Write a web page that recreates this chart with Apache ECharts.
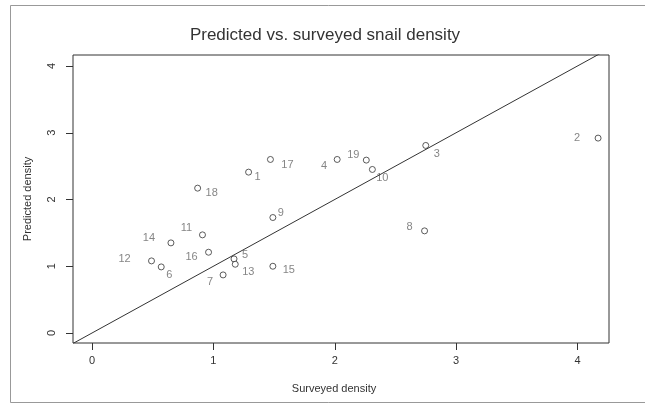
<!DOCTYPE html>
<html>
<head>
<meta charset="utf-8">
<script src="https://cdn.jsdelivr.net/npm/echarts@6/dist/echarts.min.js"></script>
<style>
  html, body { margin: 0; padding: 0; background: #fff; }
  #snailChart { width: 645px; height: 407px; }
</style>
</head>
<body>
<div id="snailChart"></div>
<script>
// site ids and densities
var siteIds = ["1", "2", "3", "4", "5", "6", "7", "8", "9", "10",
               "11", "12", "13", "14", "15", "16", "17", "18", "19"];
var surveyed = [1.29, 4.17, 2.75, 2.02, 1.17, 0.57, 1.08, 2.74, 1.49, 2.31,
                0.91, 0.49, 1.18, 0.65, 1.49, 0.96, 1.47, 0.87, 2.26];
var predicted = [2.41, 2.92, 2.81, 2.60, 1.11, 0.99, 0.87, 1.53, 1.73, 2.45,
                 1.47, 1.08, 1.03, 1.35, 1.00, 1.21, 2.60, 2.17, 2.59];
var tickValues = [0, 1, 2, 3, 4];

// where each id label sits next to its point (px)
var labelShift = {
  "1": [9, 5], "2": [-21, 0], "3": [11, 9], "4": [-13, 7], "5": [11, -4],
  "6": [8, 8], "7": [-13, 7], "8": [-15, -4], "9": [8, -5], "10": [10, 9],
  "11": [-16, -7], "12": [-27, -2], "13": [13, 8], "14": [-22, -5], "15": [16, 4],
  "16": [-17, 5], "17": [17, 6], "18": [14, 5], "19": [-13, -5]
};

var xMin = -0.157, xMax = 4.26;
var yMin = -0.15, yMax = 4.165;

var chart = echarts.init(document.getElementById("snailChart"), null, { renderer: "canvas" });

var points = [];
for (var i = 0; i < siteIds.length; i++) {
  points.push({
    value: [surveyed[i], predicted[i], siteIds[i]],
    label: { offset: labelShift[siteIds[i]] || [10, 0] }
  });
}

var fontFam = "'Liberation Sans', Arial, sans-serif";

var option = {
  backgroundColor: "#fff",
  animation: false,
  title: {
    text: "Predicted vs. surveyed snail density",
    left: 320,
    textAlign: "center",
    top: 22,
    textStyle: { fontFamily: fontFam, fontSize: 17, fontWeight: "normal", color: "#333" }
  },
  graphic: [
    {
      type: "rect",
      shape: { x: 10.5, y: 5.5, width: 640, height: 397 },
      style: { fill: null, stroke: "#999", lineWidth: 1 },
      silent: true
    }
  ],
  grid: {
    left: 73, right: 36, top: 55, bottom: 64,
    show: true, borderColor: "#333", borderWidth: 1, backgroundColor: "transparent"
  },
  xAxis: {
    type: "value",
    min: xMin, max: xMax,
    name: "Surveyed density",
    nameLocation: "middle",
    nameGap: 40,
    nameTextStyle: { fontFamily: fontFam, fontSize: 11, color: "#333", padding: [0, 14, 0, 0] },
    axisLine: { show: false, onZero: false },
    splitLine: { show: false },
    axisTick: { show: true, length: 7, customValues: tickValues, lineStyle: { color: "#333" } },
    axisLabel: { customValues: tickValues, margin: 12, fontFamily: fontFam, fontSize: 11, color: "#333" }
  },
  yAxis: {
    type: "value",
    min: yMin, max: yMax,
    name: "Predicted density",
    nameLocation: "middle",
    nameGap: 40,
    nameTextStyle: { fontFamily: fontFam, fontSize: 11, color: "#333" },
    axisLine: { show: false, onZero: false },
    splitLine: { show: false },
    axisTick: { show: true, length: 7, customValues: tickValues, lineStyle: { color: "#333" } },
    axisLabel: { customValues: tickValues, rotate: 90, margin: 16, fontFamily: fontFam, fontSize: 11, color: "#333" }
  },
  series: [
    {
      name: "1:1",
      type: "line",
      data: [[xMin, xMin], [xMax, xMax]],
      showSymbol: false,
      clip: true,
      lineStyle: { color: "#333", width: 1 },
      silent: true
    },
    {
      name: "sites",
      type: "scatter",
      data: points,
      symbol: "circle",
      symbolSize: 6,
      itemStyle: { color: "#fff", borderColor: "#333", borderWidth: 1 },
      label: {
        show: true,
        position: "inside",
        formatter: function (p) { return p.value[2]; },
        fontFamily: fontFam,
        fontSize: 11,
        color: "#666"
      }
    }
  ]
};

chart.setOption(option);
</script>
</body>
</html>
